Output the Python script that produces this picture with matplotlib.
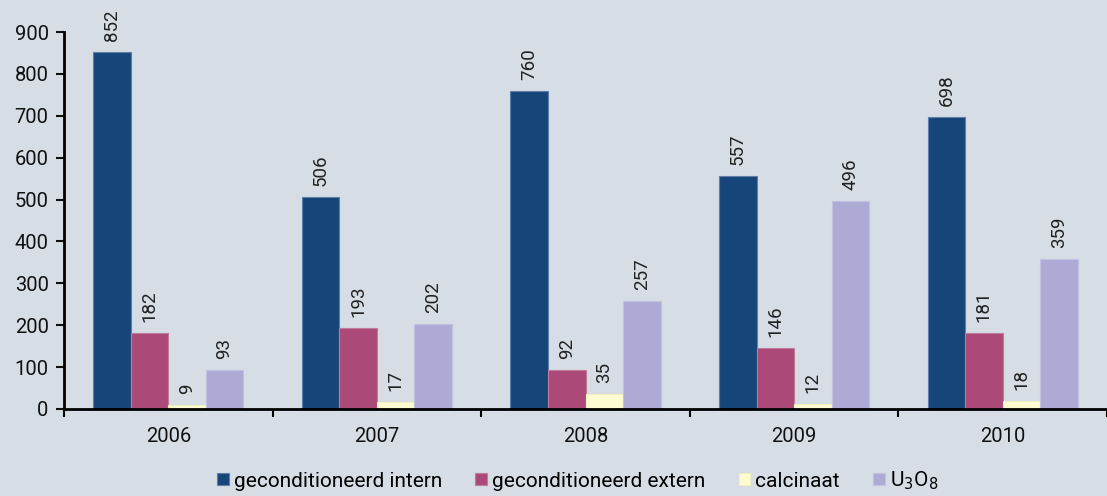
import matplotlib
matplotlib.use("Agg")
import matplotlib.pyplot as plt
import numpy as np

years = ["2006", "2007", "2008", "2009", "2010"]
series_names = ["geconditioneerd intern", "geconditioneerd extern", "calcinaat", "U$_3$O$_8$"]
intern = [852, 506, 760, 557, 698]
extern = [182, 193, 92, 146, 181]
calcinaat = [9, 17, 35, 12, 18]
u3o8 = [93, 202, 257, 496, 359]
series = [intern, extern, calcinaat, u3o8]
colors = ["#16457a", "#ab4a78", "#fdfbd2", "#adabd6"]
edges = ["#5f7fa8", "#c27a9c", "#f2efc0", "#c3c1e2"]
bg = "#d6dde5"

plt.rcParams['font.family'] = ['Roboto', 'DejaVu Sans']

fig = plt.figure(figsize=(11.07, 4.96), dpi=100, facecolor=bg)
ax = fig.add_axes([64/1107, 1-409/496, 1-64/1107, (409-32)/496])
ax.set_facecolor(bg)

x = np.arange(len(years))
w = 0.18
for i, (vals, c, ec, name) in enumerate(zip(series, colors, edges, series_names)):
    pos = x + (i - 1.5) * w
    ax.bar(pos, vals, w, color=c, edgecolor=ec, linewidth=0.8, label=name)
    for p, v in zip(pos, vals):
        ax.annotate(str(v), (p, v), xytext=(0, 8), textcoords="offset points",
                    rotation=90, ha="center", va="bottom", fontsize=13.5, color="#222222")

ax.set_ylim(0, 900)
ax.set_yticks(range(0, 901, 100))
ax.tick_params(axis="y", labelsize=14.5, length=6, width=1.5, pad=5, colors="#111111")
ax.set_xlim(-0.5, -0.5 + (1107 - 64) / 211)
ax.set_xticks(x)
ax.set_xticklabels(years)
ax.set_xticks(np.arange(-0.5, 5.0, 1.0), minor=True)
ax.tick_params(axis="x", which="major", length=0, labelsize=14.5, pad=13, colors="#111111")
ax.tick_params(axis="x", which="minor", length=6, width=1.5, direction="out")
for s in ["top", "right"]:
    ax.spines[s].set_visible(False)
for s in ["left", "bottom"]:
    ax.spines[s].set_linewidth(2)
    ax.spines[s].set_color("black")

leg = fig.legend(loc="lower center", bbox_to_anchor=(0.522, -0.03), ncol=4, frameon=False,
                 fontsize=15, handlelength=0.55, handleheight=0.55, handletextpad=0.25,
                 columnspacing=1.6)

fig.savefig("out.png", dpi=100, facecolor=bg)
